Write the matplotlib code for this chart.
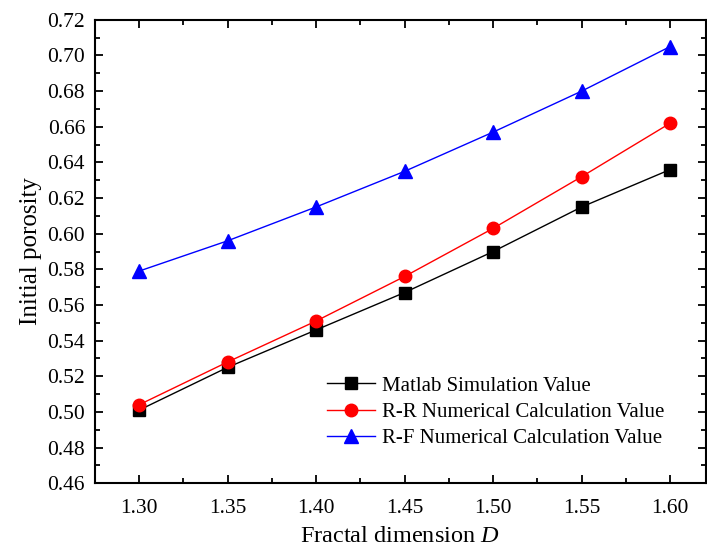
import matplotlib.pyplot as plt
from matplotlib.ticker import MultipleLocator

# Fractal dimension and porosity values
fractal_d = [1.30, 1.35, 1.40, 1.45, 1.50, 1.55, 1.60]
matlab_sim = [0.501, 0.525, 0.546, 0.567, 0.590, 0.615, 0.636]
rr_calc = [0.504, 0.528, 0.551, 0.576, 0.603, 0.632, 0.662]
rf_calc = [0.579, 0.596, 0.615, 0.635, 0.657, 0.680, 0.705]

plt.rcParams['font.family'] = ['Liberation Serif', 'DejaVu Serif']
plt.rcParams['mathtext.fontset'] = 'custom'
plt.rcParams['mathtext.it'] = 'Liberation Serif:italic'
plt.rcParams['mathtext.rm'] = 'Liberation Serif'

fig = plt.figure(figsize=(7.07, 5.51), dpi=100)
ax = fig.add_axes([0.134, 0.123, 0.864, 0.841])

ax.plot(fractal_d, matlab_sim, color='black', lw=1, marker='s', ms=8,
        label='Matlab Simulation Value')
ax.plot(fractal_d, rr_calc, color='red', lw=1, marker='o', ms=9,
        label='R-R Numerical Calculation Value')
ax.plot(fractal_d, rf_calc, color='blue', lw=1, marker='^', ms=10,
        label='R-F Numerical Calculation Value')

ax.set_xlim(1.275, 1.62)
ax.set_ylim(0.46, 0.72)
ax.set_xticks(fractal_d)
ax.set_xticklabels([f'{v:.2f}' for v in fractal_d])
ax.xaxis.set_minor_locator(MultipleLocator(0.025))
ax.yaxis.set_major_locator(MultipleLocator(0.02))
ax.yaxis.set_minor_locator(MultipleLocator(0.01))
ax.yaxis.set_major_formatter(plt.FormatStrFormatter('%.2f'))

ax.tick_params(which='both', direction='in', top=True, right=True, labelsize=15.5, width=1.3)
ax.tick_params(which='major', length=6)
ax.tick_params(axis='y', which='major', pad=7)
ax.tick_params(axis='x', which='major', pad=11)
ax.tick_params(which='minor', length=3.5)
for s in ax.spines.values():
    s.set_linewidth(1.5)

ax.set_xlabel('Fractal dimension $D$', fontsize=17.5, labelpad=6)
ax.set_ylabel('Initial porosity', fontsize=18, labelpad=4)

ax.legend(loc='upper left', bbox_to_anchor=(327 / 707, 1 - 376 / 551),
          bbox_transform=fig.transFigure, frameon=False, fontsize=15,
          borderpad=0, borderaxespad=0, handlelength=2.3, handletextpad=0.35,
          labelspacing=0.32)

fig.savefig('out.png', dpi=100)
